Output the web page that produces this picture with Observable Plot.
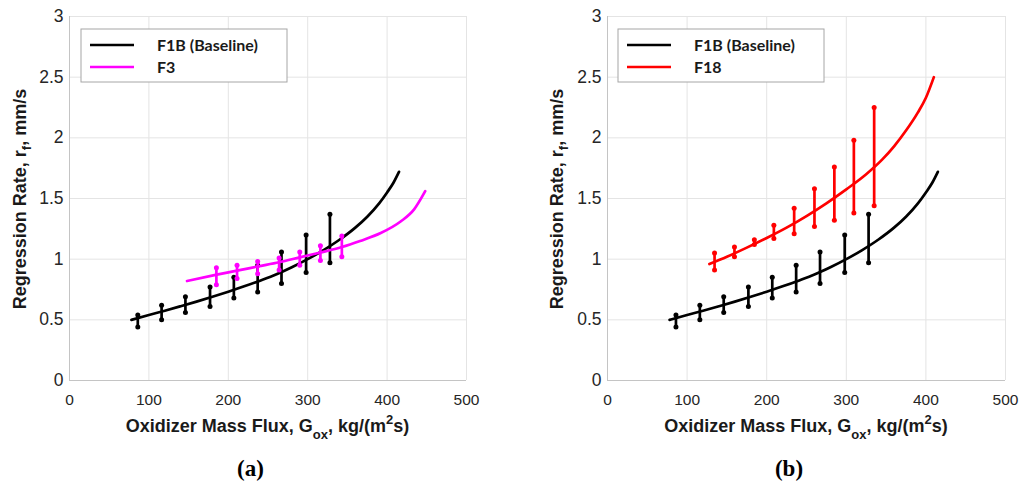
<!DOCTYPE html>
<html><head><meta charset="utf-8">
<script src="https://cdn.jsdelivr.net/npm/d3@7"></script>
<script src="https://cdn.jsdelivr.net/npm/@observablehq/plot@0.6"></script>
<style>
html,body{margin:0;padding:0;background:#fff;}
#wrap{position:relative;width:1019px;height:485px;overflow:hidden;}
#wrap svg{position:absolute;top:0;}
.cap{position:absolute;top:457px;font:bold 23px "Liberation Serif","Times New Roman",serif;line-height:1;transform:translateX(-50%);color:#000;}
</style></head><body><div id="wrap"></div><script>
// ---- tick labels ----
const xTicks = [0, 100, 200, 300, 400, 500];
const xTickLabels = ["0", "100", "200", "300", "400", "500"];
const yTicks = [0, 0.5, 1, 1.5, 2, 2.5, 3];
const yTickLabels = ["0", "0.5", "1", "1.5", "2", "2.5", "3"];

// ---- F1B (Baseline) fitted curve ----
const f1bCurveX = [78, 100, 120, 140, 160, 180, 200, 220, 240, 260, 280, 300, 320, 340, 360, 375, 390, 400, 408, 415];
const f1bCurveY = [0.50, 0.54, 0.575, 0.612, 0.65, 0.69, 0.732, 0.776, 0.823, 0.873, 0.933, 1.00, 1.075, 1.16, 1.26, 1.35, 1.46, 1.55, 1.63, 1.72];
// F1B error bars
const f1bBarX = [86, 116, 146, 177, 207, 237, 267, 298, 328];
const f1bBarLow = [0.44, 0.50, 0.56, 0.61, 0.68, 0.73, 0.80, 0.89, 0.97];
const f1bBarHigh = [0.54, 0.62, 0.69, 0.77, 0.85, 0.95, 1.06, 1.20, 1.37];

// ---- F3 ----
const f3CurveX = [148, 184, 211, 237, 264, 290, 316, 343, 366, 392, 417, 434, 448];
const f3CurveY = [0.82, 0.87, 0.905, 0.94, 0.975, 1.015, 1.055, 1.10, 1.15, 1.215, 1.31, 1.41, 1.56];
const f3BarX = [185, 211, 237, 264, 290, 316, 343];
const f3BarLow = [0.79, 0.84, 0.88, 0.91, 0.95, 0.99, 1.02];
const f3BarHigh = [0.93, 0.95, 0.98, 1.01, 1.06, 1.11, 1.19];

// ---- F18 ----
const f18CurveX = [128, 150, 175, 200, 225, 250, 275, 300, 325, 345, 360, 375, 390, 400, 410];
const f18CurveY = [0.96, 1.02, 1.095, 1.175, 1.26, 1.355, 1.46, 1.575, 1.70, 1.82, 1.93, 2.06, 2.21, 2.33, 2.50];
const f18BarX = [134.5, 159.5, 184.5, 209, 234.5, 260, 285, 309.5, 335];
const f18BarLow = [0.91, 1.02, 1.12, 1.17, 1.21, 1.27, 1.32, 1.38, 1.44];
const f18BarHigh = [1.05, 1.10, 1.16, 1.28, 1.42, 1.58, 1.76, 1.98, 2.25];

const seriesNames = ["F1B (Baseline)", "F3", "F18"];
const colors = {"F1B (Baseline)": "#000000", "F3": "#ff00ff", "F18": "#ff0000"};

const toPts = (xs, ys) => xs.map((x, i) => ({x, y: ys[i]}));
const toBars = (xs, lo, hi) => xs.map((x, i) => ({x, lo: lo[i], hi: hi[i]}));

const series = {
  "F1B (Baseline)": {curve: toPts(f1bCurveX, f1bCurveY), bars: toBars(f1bBarX, f1bBarLow, f1bBarHigh)},
  "F3": {curve: toPts(f3CurveX, f3CurveY), bars: toBars(f3BarX, f3BarLow, f3BarHigh)},
  "F18": {curve: toPts(f18CurveX, f18CurveY), bars: toBars(f18BarX, f18BarLow, f18BarHigh)}
};

const H = 445;
const FONT = "'Liberation Sans', Arial, sans-serif";
function panel(names, ml, mr, width, left, legendX, yLabelX, capText) {
  const marks = [
    Plot.gridX(xTicks, {stroke: "#e4e4e4", strokeOpacity: 1, strokeWidth: 1}),
    Plot.gridY(yTicks, {stroke: "#e4e4e4", strokeOpacity: 1, strokeWidth: 1}),
    Plot.ruleX([0], {stroke: "#c4c4c4"}),
    Plot.ruleY([0], {stroke: "#c4c4c4"}),
    Plot.axisX(xTicks, {tickSize: 0, tickPadding: 13, fontSize: 15.5, tickFormat: d => xTickLabels[xTicks.indexOf(d)], label: null}),
    Plot.axisY(yTicks, {tickSize: 0, tickPadding: 6, fontSize: 17.5, tickFormat: d => yTickLabels[yTicks.indexOf(d)], label: null})
  ];
  for (const n of names) {
    const s = series[n], c = colors[n];
    marks.push(Plot.line(s.curve, {x: "x", y: "y", stroke: c, strokeWidth: 2.7, curve: "monotone-x"}));
    marks.push(Plot.ruleX(s.bars, {x: "x", y1: "lo", y2: "hi", stroke: c, strokeWidth: 2.7}));
    marks.push(Plot.dot(s.bars, {x: "x", y: "lo", r: 2.5, fill: c, stroke: "none"}));
    marks.push(Plot.dot(s.bars, {x: "x", y: "hi", r: 2.5, fill: c, stroke: "none"}));
  }
  const svgEl = Plot.plot({
    width, height: H,
    marginLeft: ml, marginRight: mr, marginTop: 16, marginBottom: H - 380,
    x: {domain: [0, 500]},
    y: {domain: [0, 3]},
    style: {fontSize: "16px", fontFamily: FONT, color: "#262626", background: "#fff", overflow: "visible"},
    marks
  });
  svgEl.style.left = left + "px";
  const svg = d3.select(svgEl);
  // x label
  const cx = ml + (width - ml - mr) / 2;
  const xl = svg.append("text").attr("x", cx).attr("y", 432).attr("text-anchor", "middle")
    .attr("font-family", FONT).attr("font-weight", "bold").attr("font-size", 18).attr("fill", "#1a1a1a");
  xl.append("tspan").text("Oxidizer Mass Flux, G");
  xl.append("tspan").attr("font-size", 13).attr("dy", 7).text("ox");
  xl.append("tspan").attr("dy", -7).text(", kg/(m");
  xl.append("tspan").attr("font-size", 13).attr("dy", -8).text("2");
  xl.append("tspan").attr("dy", 8).text("s)");
  // y label
  const yl = svg.append("text").attr("transform", `translate(${yLabelX},199) rotate(-90)`).attr("text-anchor", "middle")
    .attr("font-family", FONT).attr("font-weight", "bold").attr("font-size", 18).attr("fill", "#1a1a1a");
  yl.append("tspan").text("Regression Rate, r");
  yl.append("tspan").attr("font-size", 13).attr("dy", 5).text("f");
  yl.append("tspan").attr("dy", -5).text(", mm/s");
  // legend
  const g = svg.append("g").attr("transform", `translate(${legendX},29)`);
  g.append("rect").attr("x", 0).attr("y", 0).attr("width", 206).attr("height", 53).attr("fill", "#fff").attr("stroke", "#a6a6a6").attr("stroke-width", 1);
  names.forEach((n, i) => {
    const yy = 16 + i * 22;
    g.append("line").attr("x1", 9).attr("x2", 53).attr("y1", yy).attr("y2", yy).attr("stroke", colors[n]).attr("stroke-width", 2.7);
    g.append("text").attr("x", 76).attr("y", yy + 6).attr("text-anchor", "start")
      .attr("font-family", "Lato, 'Open Sans', sans-serif").attr("font-weight", "bold").attr("font-size", 16).attr("fill", "#1a1a1a").text(n);
  });
  document.getElementById("wrap").appendChild(svgEl);
  const cap = document.createElement("div");
  cap.className = "cap";
  cap.style.left = (left + cx - 17) + "px";
  cap.textContent = capText;
  document.getElementById("wrap").appendChild(cap);
}

panel(["F1B (Baseline)", "F3"], 69, 34, 500, 0, 81, 26, "(a)");
panel(["F1B (Baseline)", "F18"], 87, 14, 499, 520, 98, 43, "(b)");
</script></body></html>
